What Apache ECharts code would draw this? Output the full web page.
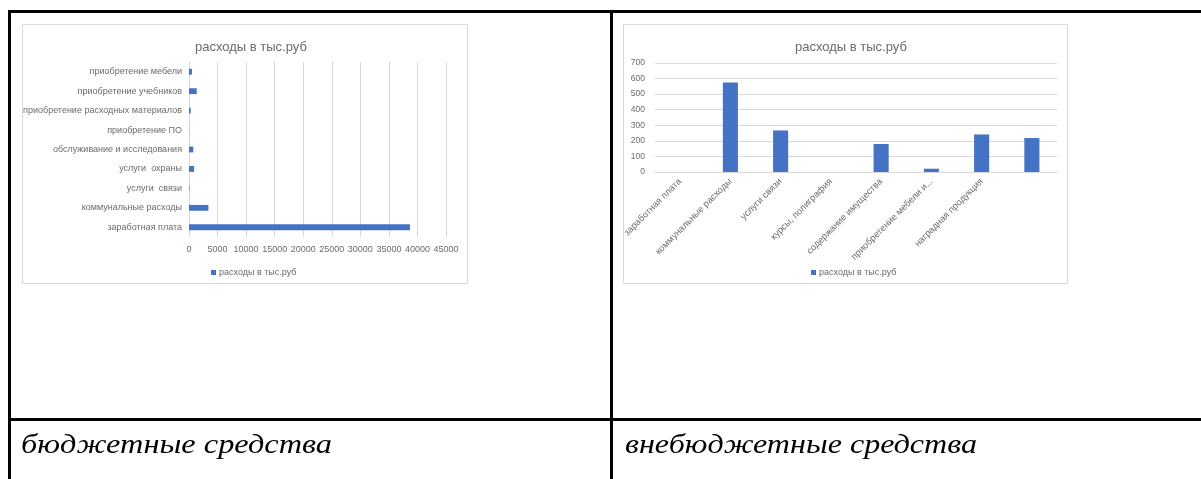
<!DOCTYPE html>
<html>
<head>
<meta charset="utf-8">
<script src="https://cdn.jsdelivr.net/npm/echarts@6/dist/echarts.min.js"></script>
<style>
html,body{margin:0;padding:0;background:#fff;}
#main{width:1201px;height:479px;}
</style>
</head>
<body>
<div id="main"></div>
<script>
// ---- data ----
const seriesName = 'расходы в тыс.руб';
const leftCategories = ['заработная плата', 'коммунальные расходы', 'услуги  связи', 'услуги  охраны', 'обслуживание и исследования', 'приобретение ПО', 'приобретение расходных материалов', 'приобретение учебников', 'приобретение мебели'];
const leftValues = [38700, 3400, 80, 900, 750, 30, 300, 1350, 520];
const leftAxisMax = 45000;
const leftAxisStep = 5000;
const rightCategories = ['заработная плата', 'коммунальные расходы', 'услуги связи', 'курсы, полиграфия', 'содержание имущества', 'приобретение мебели и...', 'наградная продукция', ''];
const rightValues = [0, 575, 267, 0, 180, 21, 241, 218];
const rightAxisMax = 700;
const rightAxisStep = 100;
const captions = ['бюджетные средства', 'внебюджетные средства'];

// ---- rendering ----
const chart = echarts.init(document.getElementById('main'), null, {renderer: 'canvas'});
const FONT = '"Liberation Sans", Arial, sans-serif';
const GREY = '#6b6b6b';
const BAR = '#4472c4';
const CAP_FONT = 'italic 28px "Liberation Serif", serif';

function captionScale(text, target) {
  const c = document.createElement('canvas').getContext('2d');
  c.font = CAP_FONT;
  return target / c.measureText(text).width;
}

const black = {fill: '#000'};
const graphics = [
  {type: 'rect', z: -10, shape: {x: 22.5, y: 24.5, width: 445, height: 259}, style: {fill: '#fff', stroke: '#d9d9d9', lineWidth: 1}},
  {type: 'rect', z: -10, shape: {x: 623.5, y: 24.5, width: 444, height: 259}, style: {fill: '#fff', stroke: '#d9d9d9', lineWidth: 1}},
  {type: 'rect', shape: {x: 8, y: 10, width: 1193, height: 3}, style: black},
  {type: 'rect', shape: {x: 8, y: 10, width: 3, height: 469}, style: black},
  {type: 'rect', shape: {x: 610, y: 10, width: 3, height: 469}, style: black},
  {type: 'rect', shape: {x: 8, y: 418, width: 1193, height: 3}, style: black},
  {type: 'text', x: 21, y: 446, scaleX: captionScale(captions[0], 311), style: {text: captions[0], x: 0, y: 0, fill: '#000', font: CAP_FONT, verticalAlign: 'middle'}},
  {type: 'text', x: 625, y: 446, scaleX: captionScale(captions[1], 352), style: {text: captions[1], x: 0, y: 0, fill: '#000', font: CAP_FONT, verticalAlign: 'middle'}}
];

const option = {
  backgroundColor: '#fff',
  animation: false,
  graphic: graphics,
  title: [
    {text: seriesName, left: 190, top: 36, textStyle: {fontFamily: FONT, fontSize: 13, fontWeight: 'normal', color: GREY}},
    {text: seriesName, left: 790, top: 36, textStyle: {fontFamily: FONT, fontSize: 13, fontWeight: 'normal', color: GREY}}
  ],
  legend: [
    {left: 206, top: 263, itemWidth: 5, itemHeight: 5, itemGap: 4, data: [{name: seriesName, icon: 'rect'}], textStyle: {fontFamily: FONT, fontSize: 9, color: GREY, padding: [0, 0, 0, -2]}, selectedMode: false},
    {left: 806, top: 263, itemWidth: 5, itemHeight: 5, itemGap: 4, data: [{name: seriesName, icon: 'rect'}], textStyle: {fontFamily: FONT, fontSize: 9, color: GREY, padding: [0, 0, 0, -2]}, selectedMode: false}
  ],
  grid: [
    {left: 189, top: 62, width: 257, height: 175},
    {left: 655, top: 63, width: 402, height: 109}
  ],
  xAxis: [
    {gridIndex: 0, type: 'value', min: 0, max: leftAxisMax, interval: leftAxisStep,
     axisLine: {show: false}, axisTick: {show: false},
     splitLine: {show: true, lineStyle: {color: '#d9d9d9', width: 1}},
     axisLabel: {fontFamily: FONT, fontSize: 9, color: GREY, margin: 8, formatter: function (v) { return String(v); }}},
    {gridIndex: 1, type: 'category', data: rightCategories,
     axisLine: {show: true, lineStyle: {color: '#d9d9d9'}}, axisTick: {show: false},
     axisLabel: {interval: 0, rotate: 45, fontFamily: FONT, fontSize: 9.3, color: GREY, margin: 8}}
  ],
  yAxis: [
    {gridIndex: 0, type: 'category', data: leftCategories,
     axisLine: {show: false}, axisTick: {show: false},
     axisLabel: {fontFamily: FONT, fontSize: 9, color: GREY, margin: 7}},
    {gridIndex: 1, type: 'value', min: 0, max: rightAxisMax, interval: rightAxisStep,
     axisLine: {show: false}, axisTick: {show: false},
     splitLine: {show: true, lineStyle: {color: '#d9d9d9', width: 1}},
     axisLabel: {fontFamily: FONT, fontSize: 8.5, color: GREY, margin: 10}}
  ],
  series: [
    {name: seriesName, type: 'bar', xAxisIndex: 0, yAxisIndex: 0, data: leftValues, barWidth: '30%', itemStyle: {color: BAR}},
    {name: seriesName, type: 'bar', xAxisIndex: 1, yAxisIndex: 1, data: rightValues, barWidth: '30%', itemStyle: {color: BAR}}
  ]
};
chart.setOption(option);
</script>
</body>
</html>
